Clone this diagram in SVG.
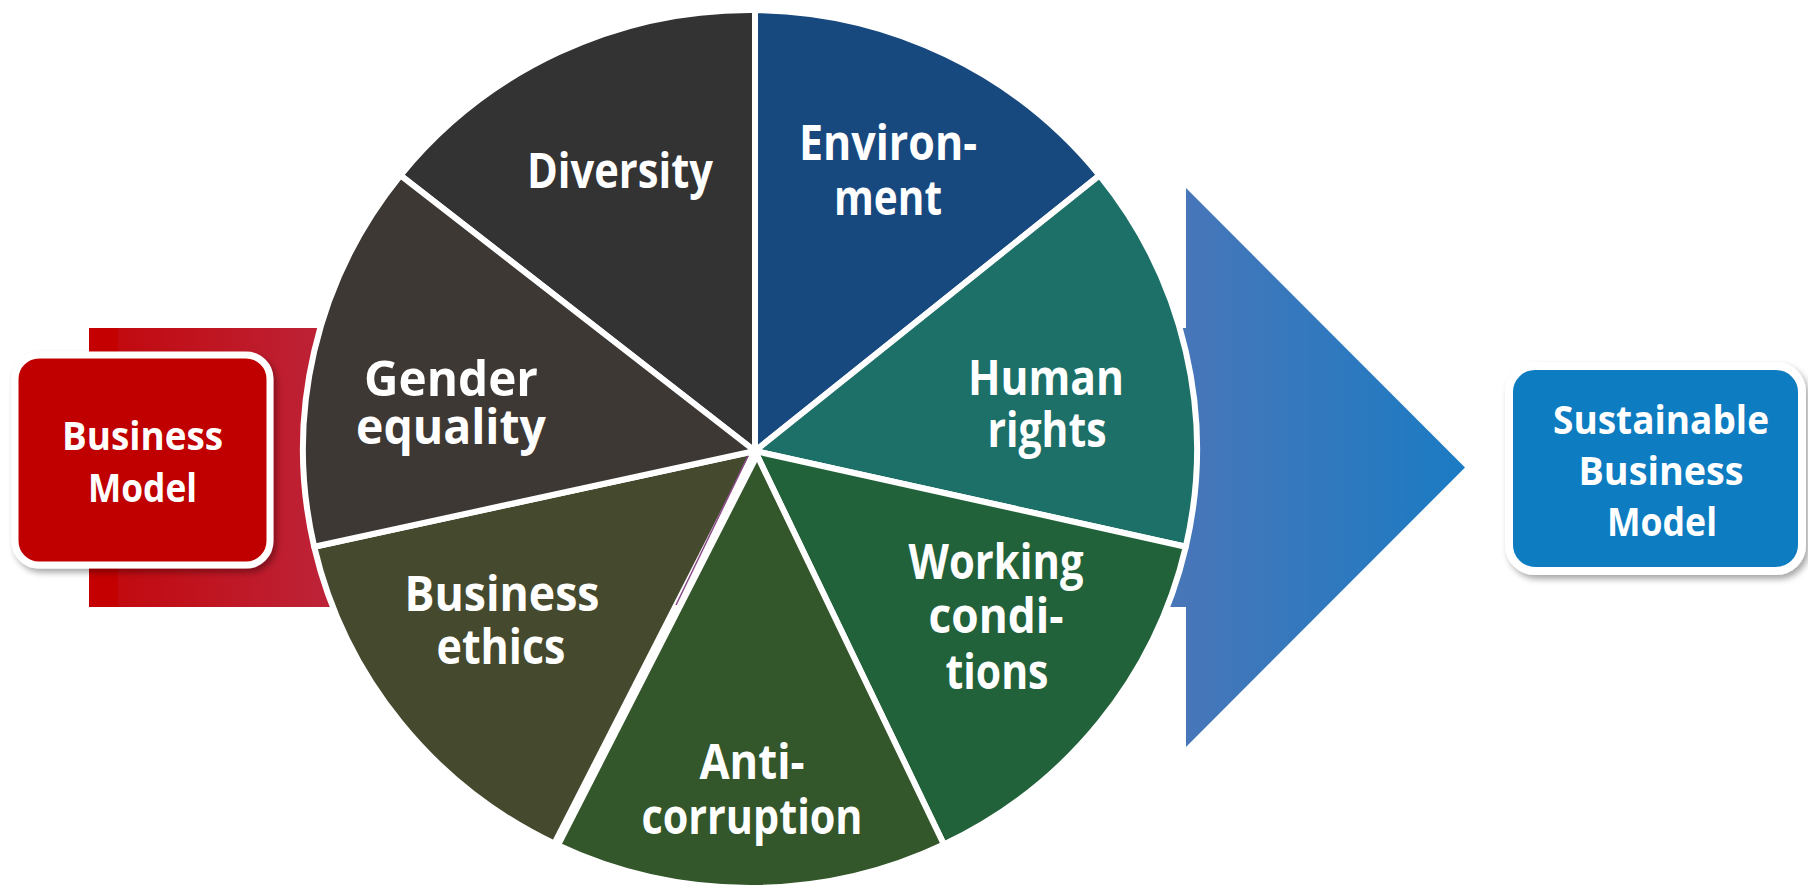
<svg xmlns="http://www.w3.org/2000/svg" width="1808" height="892" viewBox="0 0 1808 892">
<style>
  .lbl { font-family: "Open Sans", "Liberation Sans", sans-serif; font-weight: 700; fill: #ffffff; text-anchor: middle; }
  .pie { font-size: 49px; }
  .box { font-size: 39px; }
  .wedge { stroke: #ffffff; stroke-width: 6; stroke-linejoin: round; }
</style>
<defs>
  <linearGradient id="redGrad" gradientUnits="userSpaceOnUse" x1="89" y1="0" x2="320" y2="0">
    <stop offset="0" stop-color="#c40000"/>
    <stop offset="0.12" stop-color="#c40000"/>
    <stop offset="0.13" stop-color="#c20a10"/>
    <stop offset="1" stop-color="#bd2236"/>
  </linearGradient>
  <linearGradient id="blueGrad" gradientUnits="userSpaceOnUse" x1="1186" y1="0" x2="1465" y2="0">
    <stop offset="0" stop-color="#4776b9"/>
    <stop offset="1" stop-color="#1b7bc3"/>
  </linearGradient>
  <filter id="shadow" x="-10%" y="-10%" width="125%" height="130%">
    <feDropShadow dx="3" dy="4" stdDeviation="3" flood-color="#000000" flood-opacity="0.35"/>
  </filter>
</defs>

<g id="background-bands">
  <rect x="89" y="328" width="330" height="279" fill="url(#redGrad)"/>
  <path d="M 1000 328 L 1186 328 L 1186 188 L 1465 467.5 L 1186 747 L 1186 607 L 1000 607 Z" fill="url(#blueGrad)"/>
</g>

<g id="pie">
  <g id="diversity">
    <path class="wedge" fill="#333333" d="M 755 451 L 400.5 175.3 A 447 439 0 0 1 755 10 Z"/>
    <text class="lbl pie" x="620" y="188" textLength="186" lengthAdjust="spacingAndGlyphs">Diversity</text>
  </g>
  <g id="environment">
    <path class="wedge" fill="#17487e" d="M 755 451 L 755 10 A 447 439 0 0 1 1099.5 175.3 Z"/>
    <text class="lbl pie"><tspan x="888" y="160" textLength="178" lengthAdjust="spacingAndGlyphs">Environ-</tspan><tspan x="888" y="215" textLength="108" lengthAdjust="spacingAndGlyphs">ment</tspan></text>
  </g>
  <g id="human-rights">
    <path class="wedge" fill="#1c7068" d="M 755 451 L 1099.5 175.3 A 447 439 0 0 1 1185.8 546.7 Z"/>
    <text class="lbl pie"><tspan x="1046" y="395" textLength="156" lengthAdjust="spacingAndGlyphs">Human</tspan><tspan x="1047" y="447" textLength="119" lengthAdjust="spacingAndGlyphs">rights</tspan></text>
  </g>
  <g id="working-conditions">
    <path class="wedge" fill="#22623a" d="M 755 451 L 1185.8 546.7 A 447 439 0 0 1 943.9 844.5 Z"/>
    <text class="lbl pie"><tspan x="996" y="579" textLength="175" lengthAdjust="spacingAndGlyphs">Working</tspan><tspan x="996" y="633" textLength="135" lengthAdjust="spacingAndGlyphs">condi-</tspan><tspan x="997" y="689" textLength="103" lengthAdjust="spacingAndGlyphs">tions</tspan></text>
  </g>
  <g id="anti-corruption">
    <path class="wedge" fill="#33562a" d="M 755 451 L 943.9 844.5 A 447 439 0 0 1 556.1 844.5 Z"/>
    <text class="lbl pie"><tspan x="752" y="779" textLength="105" lengthAdjust="spacingAndGlyphs">Anti-</tspan><tspan x="752" y="834" textLength="221" lengthAdjust="spacingAndGlyphs">corruption</tspan></text>
  </g>
  <g id="business-ethics">
    <path class="wedge" fill="#454a2f" d="M 755 451 L 556.1 844.5 A 447 439 0 0 1 314.2 546.7 Z"/>
    <text class="lbl pie"><tspan x="502" y="611" textLength="195" lengthAdjust="spacingAndGlyphs">Business</tspan><tspan x="501" y="664" textLength="129" lengthAdjust="spacingAndGlyphs">ethics</tspan></text>
  </g>
  <g id="gender-equality">
    <path class="wedge" fill="#3d3833" d="M 755 451 L 314.2 546.7 A 447 439 0 0 1 400.5 175.3 Z"/>
    <text class="lbl pie"><tspan x="451" y="396" textLength="174" lengthAdjust="spacingAndGlyphs">Gender</tspan><tspan x="451" y="444" textLength="190" lengthAdjust="spacingAndGlyphs">equality</tspan></text>
  </g>
</g>

<g id="connectors">
  <line x1="756" y1="453" x2="556.1" y2="844.5" stroke="#ffffff" stroke-width="10"/>
  <line x1="748" y1="456" x2="676" y2="605" stroke="#8a4a88" stroke-width="1.5"/>
</g>

<g id="business-model">
  <rect x="15" y="355" width="255" height="210" rx="24" fill="#c00000" stroke="#ffffff" stroke-width="7" filter="url(#shadow)"/>
  <text class="lbl box"><tspan x="142.5" y="450" textLength="161" lengthAdjust="spacingAndGlyphs">Business</tspan><tspan x="142.5" y="502" textLength="109" lengthAdjust="spacingAndGlyphs">Model</tspan></text>
</g>

<g id="sustainable-business-model">
  <rect x="1509" y="366" width="293" height="205" rx="26" fill="#0a7bc1" stroke="#ffffff" stroke-width="8" filter="url(#shadow)"/>
  <text class="lbl box"><tspan x="1661" y="434" textLength="216" lengthAdjust="spacingAndGlyphs">Sustainable</tspan><tspan x="1661" y="485" textLength="165" lengthAdjust="spacingAndGlyphs">Business</tspan><tspan x="1662" y="536" textLength="110" lengthAdjust="spacingAndGlyphs">Model</tspan></text>
</g>
</svg>
